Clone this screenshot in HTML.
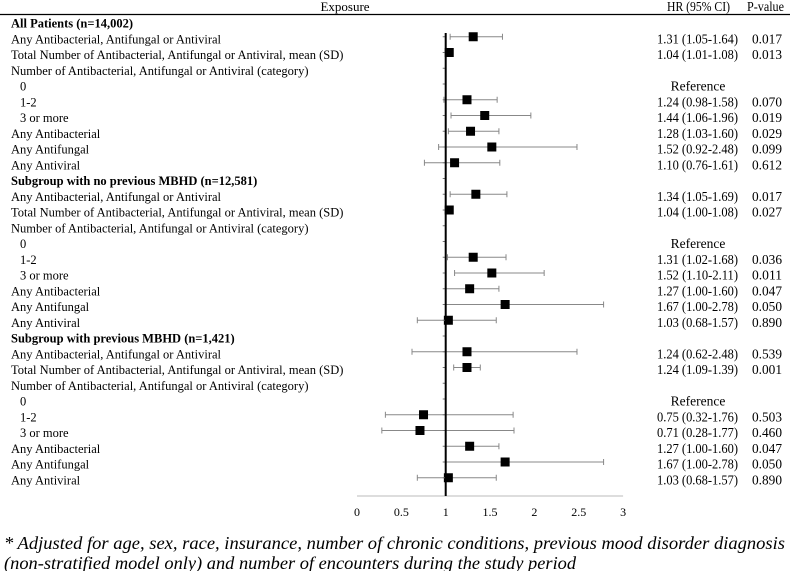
<!DOCTYPE html>
<html><head><meta charset="utf-8"><style>
body{margin:0;background:#fff;}
svg{display:block;font-family:"Liberation Serif",serif;}
</style></head><body>
<svg id="chart" width="790" height="571" viewBox="0 0 790 571">
<text x="345" y="11" font-size="13" text-anchor="middle">Exposure</text>
<text x="667" y="11" font-size="13.5" textLength="63" lengthAdjust="spacingAndGlyphs">HR (95% CI)</text>
<text x="747" y="11" font-size="13.5" textLength="37" lengthAdjust="spacingAndGlyphs">P-value</text>
<line x1="0" y1="14.5" x2="790" y2="14.5" stroke="#000" stroke-width="1.2"/>
<g id="rows"></g>
<g id="marks"></g>
<g id="axis"></g>
<text x="4" y="549" font-size="18.4" font-style="italic" textLength="781" lengthAdjust="spacingAndGlyphs">* Adjusted for age, sex, race, insurance, number of chronic conditions, previous mood disorder diagnosis</text>
<text x="4" y="569" font-size="18.4" font-style="italic">(non-stratified model only) and number of encounters during the study period</text>
</svg>
<script>
const labels = ["All Patients (n=14,002)","Any Antibacterial, Antifungal or Antiviral","Total Number of Antibacterial, Antifungal or Antiviral, mean (SD)","Number of Antibacterial, Antifungal or Antiviral (category)","  0","  1-2","  3 or more","Any Antibacterial","Any Antifungal","Any Antiviral",
"Subgroup with no previous MBHD (n=12,581)","Any Antibacterial, Antifungal or Antiviral","Total Number of  Antibacterial, Antifungal or Antiviral, mean (SD)","Number of  Antibacterial, Antifungal or Antiviral (category)","  0","  1-2","  3 or more","Any Antibacterial","Any Antifungal","Any Antiviral",
"Subgroup with previous MBHD (n=1,421)","Any Antibacterial, Antifungal or Antiviral","Total Number of  Antibacterial, Antifungal or Antiviral, mean (SD)","Number of  Antibacterial, Antifungal or Antiviral (category)","  0","  1-2","  3 or more","Any Antibacterial","Any Antifungal","Any Antiviral"];
const boldRows = [0,10,20];
const hr =  [null,1.31,1.04,null,null,1.24,1.44,1.28,1.52,1.10, null,1.34,1.04,null,null,1.31,1.52,1.27,1.67,1.03, null,1.24,1.24,null,null,0.75,0.71,1.27,1.67,1.03];
const lo =  [null,1.05,1.01,null,null,0.98,1.06,1.03,0.92,0.76, null,1.05,1.00,null,null,1.02,1.10,1.00,1.00,0.68, null,0.62,1.09,null,null,0.32,0.28,1.00,1.00,0.68];
const hi =  [null,1.64,1.08,null,null,1.58,1.96,1.60,2.48,1.61, null,1.69,1.08,null,null,1.68,2.11,1.60,2.78,1.57, null,2.48,1.39,null,null,1.76,1.77,1.60,2.78,1.57];
const pvals=[null,"0.017","0.013",null,"ref","0.070","0.019","0.029","0.099","0.612", null,"0.017","0.027",null,"ref","0.036","0.011","0.047","0.050","0.890", null,"0.539","0.001",null,"ref","0.503","0.460","0.047","0.050","0.890"];
const xTicks = [0,0.5,1,1.5,2,2.5,3];
const NS="http://www.w3.org/2000/svg";
const X = v => 357 + v*88.7;
const Y = i => 23 + i*15.75;
function mk(tag, attrs, parent){const e=document.createElementNS(NS,tag);for(const k in attrs)e.setAttribute(k,attrs[k]);parent.appendChild(e);return e;}
const rows=document.getElementById('rows'), marks=document.getElementById('marks'), axis=document.getElementById('axis');
const fmt=v=>v.toFixed(2);
labels.forEach((l,i)=>{
  const t=mk('text',{x:l.startsWith('  ')?20:11,y:Y(i)+4.5,'font-size':12.5},rows);
  
  
  if(boldRows.includes(i)) t.setAttribute('font-weight','bold');
  t.textContent=l.trim();
  if(pvals[i]==="ref"){
    const r=mk('text',{x:698,y:Y(i)+4.5,'font-size':13.5,'text-anchor':'middle'},rows);
    
    
    r.textContent="Reference";
  } else if(hr[i]!==null){
    const h=mk('text',{x:657,y:Y(i)+4.5,'font-size':13.5,textLength:81,lengthAdjust:'spacingAndGlyphs'},rows);
    
    
    h.textContent=fmt(hr[i])+" ("+fmt(lo[i])+"-"+fmt(hi[i])+")";
    const p=mk('text',{x:752,y:Y(i)+4.5,'font-size':13.5,textLength:30,lengthAdjust:'spacingAndGlyphs'},rows);
    
    
    p.textContent=pvals[i];
    const y=Y(i)-2;
    const g=mk('g',{},marks);
    
    
    mk('line',{x1:X(lo[i]),x2:X(hi[i]),y1:y,y2:y,stroke:'#888','stroke-width':1},g);
    mk('line',{x1:X(lo[i]),x2:X(lo[i]),y1:y-3,y2:y+3,stroke:'#888','stroke-width':1},g);
    mk('line',{x1:X(hi[i]),x2:X(hi[i]),y1:y-3,y2:y+3,stroke:'#888','stroke-width':1},g);
    const s=mk('rect',{x:X(hr[i])-4.5,y:y-4.5,width:9,height:9,fill:'#000'},g);
    
    
  }
  if(i>0){
    const tk=mk('line',{x1:X(1)-3,x2:X(1),y1:Y(i)-2,y2:Y(i)-2,stroke:'#777','stroke-width':1},axis);
    
    
  }
});
const xl=mk('line',{x1:X(0),x2:X(3),y1:496,y2:496,stroke:'#bbb','stroke-width':1},axis);


const ref=mk('line',{x1:X(1),x2:X(1),y1:33,y2:496,stroke:'#000','stroke-width':2},axis);


xTicks.forEach(v=>{
  const t=mk('text',{x:X(v),y:516,'font-size':12,'text-anchor':'middle'},axis);
  
  
  t.textContent=String(v);
});
</script>
</body></html>
